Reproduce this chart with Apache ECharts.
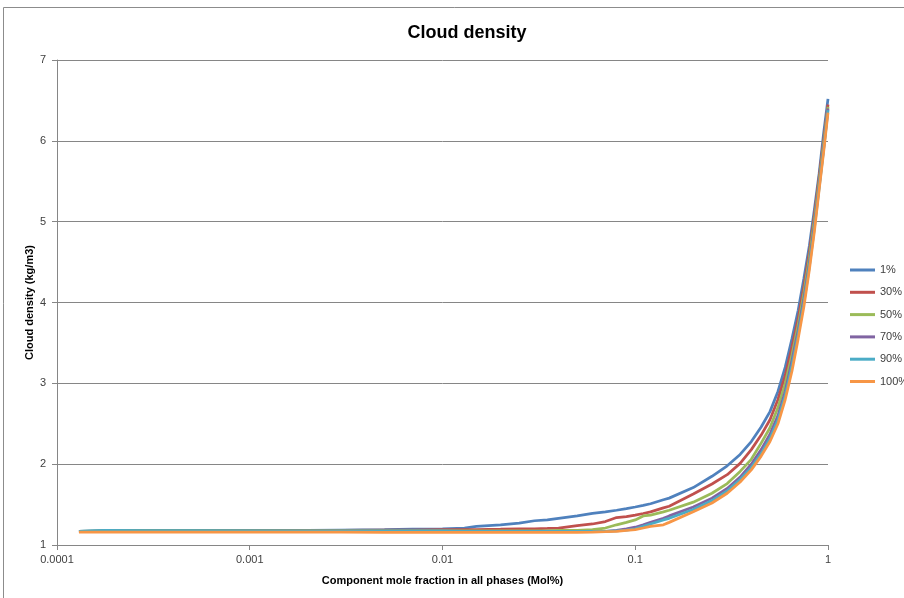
<!DOCTYPE html>
<html>
<head>
<meta charset="utf-8">
<script src="https://cdn.jsdelivr.net/npm/echarts@6/dist/echarts.min.js"></script>
<style>
  html, body { margin: 0; padding: 0; background: #fff; }
  #chart { width: 904px; height: 598px; }
</style>
</head>
<body>
<div id="chart"></div>
<script>
// Component mole fraction (log scale)
const moleFraction = [0.00013, 0.00018, 0.0003, 0.0005, 0.001, 0.002, 0.003, 0.005, 0.007, 0.01,
  0.013, 0.015, 0.02, 0.025, 0.03, 0.035, 0.04, 0.05, 0.06, 0.07,
  0.08, 0.09, 0.1, 0.11, 0.12, 0.14, 0.15, 0.2, 0.25, 0.3,
  0.35, 0.4, 0.45, 0.5, 0.55, 0.6, 0.65, 0.7, 0.75, 0.8,
  0.85, 0.9, 0.95, 1];

const seriesNames = ['1%', '30%', '50%', '70%', '90%', '100%'];

// Cloud density (kg/m3) for each case
const density1 = [1.17, 1.18, 1.18, 1.18, 1.18, 1.18, 1.185, 1.19, 1.195, 1.2,
  1.21, 1.23, 1.25, 1.27, 1.3, 1.31, 1.33, 1.36, 1.39, 1.41,
  1.43, 1.45, 1.47, 1.49, 1.51, 1.56, 1.58, 1.71, 1.85, 1.98,
  2.12, 2.28, 2.46, 2.65, 2.9, 3.2, 3.55, 3.9, 4.3, 4.7,
  5.15, 5.6, 6.1, 6.52];
const density30 = [1.165, 1.17, 1.17, 1.17, 1.175, 1.18, 1.18, 1.185, 1.185, 1.19,
  1.19, 1.19, 1.195, 1.2, 1.2, 1.205, 1.21, 1.24, 1.26, 1.29,
  1.34, 1.35, 1.37, 1.39, 1.41, 1.46, 1.48, 1.63, 1.755, 1.87,
  2.01, 2.18, 2.36, 2.55, 2.8, 3.1, 3.45, 3.8, 4.2, 4.62,
  5.08, 5.55, 6.02, 6.45];
const density50 = [1.17, 1.175, 1.175, 1.175, 1.175, 1.175, 1.175, 1.175, 1.175, 1.175,
  1.175, 1.175, 1.175, 1.175, 1.175, 1.175, 1.18, 1.18, 1.19, 1.21,
  1.25, 1.28, 1.31, 1.36, 1.37, 1.41, 1.43, 1.53, 1.64, 1.76,
  1.91, 2.06, 2.26, 2.45, 2.7, 3.0, 3.35, 3.72, 4.12, 4.55,
  5.02, 5.5, 5.97, 6.42];
const density70 = [1.165, 1.17, 1.17, 1.17, 1.165, 1.165, 1.165, 1.165, 1.165, 1.165,
  1.165, 1.165, 1.165, 1.165, 1.165, 1.165, 1.165, 1.165, 1.165, 1.17,
  1.18, 1.2, 1.22, 1.25, 1.28, 1.33, 1.36, 1.47, 1.58, 1.70,
  1.84, 2.0, 2.18, 2.37, 2.6, 2.9, 3.28, 3.65, 4.05, 4.48,
  4.96, 5.45, 5.92, 6.4];
const density90 = [1.17, 1.18, 1.175, 1.175, 1.175, 1.175, 1.175, 1.175, 1.175, 1.175,
  1.17, 1.17, 1.17, 1.17, 1.17, 1.17, 1.17, 1.17, 1.17, 1.17,
  1.175, 1.185, 1.2, 1.23, 1.26, 1.31, 1.33, 1.44, 1.55, 1.67,
  1.81, 1.96, 2.13, 2.32, 2.55, 2.85, 3.22, 3.6, 4.0, 4.44,
  4.92, 5.42, 5.9, 6.38];
const density100 = [1.16, 1.16, 1.16, 1.16, 1.16, 1.16, 1.16, 1.155, 1.155, 1.155,
  1.155, 1.155, 1.155, 1.155, 1.155, 1.155, 1.155, 1.155, 1.16, 1.165,
  1.17, 1.18, 1.19, 1.21, 1.23, 1.25, 1.28, 1.41, 1.52, 1.64,
  1.78, 1.93, 2.1, 2.28, 2.5, 2.8, 3.15, 3.55, 3.95, 4.4,
  4.88, 5.4, 5.87, 6.35];

const seriesValues = [density1, density30, density50, density70, density90, density100];
const seriesColors = ['#4F81BD', '#C0504D', '#9BBB59', '#8064A2', '#4BACC6', '#F79646'];

// Tick labels on the mole-fraction axis, keyed by decade exponent
const xTickLabels = { '-4': '0.0001', '-3': '0.001', '-2': '0.01', '-1': '0.1', '0': '1' };

const FONT = '"Liberation Sans", "DejaVu Sans", sans-serif';

const chart = echarts.init(document.getElementById('chart'), null, { renderer: 'canvas' });

chart.setOption({
  backgroundColor: '#ffffff',
  animation: false,
  title: {
    text: 'Cloud density',
    left: 462,
    textAlign: 'center',
    top: 19,
    textStyle: { fontFamily: FONT, fontSize: 18, fontWeight: 'bold', color: '#000' }
  },
  graphic: [{
    type: 'rect',
    shape: { x: 3.5, y: 7.5, width: 960, height: 640 },
    style: { fill: 'none', stroke: '#8c8c8c', lineWidth: 1 },
    silent: true,
    z: -1
  }],
  legend: {
    orient: 'vertical',
    left: 850,
    top: 263,
    padding: 0,
    itemWidth: 25,
    itemHeight: 3,
    itemGap: 8.3,
    icon: 'rect',
    data: seriesNames,
    textStyle: { fontFamily: FONT, fontSize: 11, color: '#404040', lineHeight: 14 }
  },
  grid: { left: 57, right: 76, top: 60, bottom: 53, containLabel: false },
  xAxis: {
    type: 'log',
    logBase: 10,
    min: 0.0001,
    max: 1,
    name: 'Component mole fraction in all phases (Mol%)',
    nameLocation: 'middle',
    nameGap: 30,
    nameTextStyle: { fontFamily: FONT, fontSize: 11, fontWeight: 'bold', color: '#000' },
    axisLine: { show: true, lineStyle: { color: '#868686', width: 1 } },
    axisTick: { show: true, inside: false, length: 5, lineStyle: { color: '#868686' } },
    minorTick: { show: false },
    splitLine: { show: false },
    axisLabel: {
      fontFamily: FONT, fontSize: 11, color: '#404040', margin: 9,
      formatter: v => xTickLabels[String(Math.round(Math.log10(v)))] || ''
    }
  },
  yAxis: {
    type: 'value',
    min: 1,
    max: 7,
    interval: 1,
    name: 'Cloud density (kg/m3)',
    nameLocation: 'middle',
    nameGap: 27,
    nameRotate: 90,
    nameMoveOverlap: false,
    nameTextStyle: { fontFamily: FONT, fontSize: 11, fontWeight: 'bold', color: '#000', verticalAlign: 'middle' },
    axisLine: { show: true, lineStyle: { color: '#868686', width: 1 } },
    axisTick: { show: true, inside: false, length: 5, lineStyle: { color: '#868686' } },
    splitLine: { show: true, lineStyle: { color: '#868686', width: 1 } },
    axisLabel: { fontFamily: FONT, fontSize: 11, color: '#404040', margin: 11 }
  },
  series: seriesNames.map((name, i) => ({
    name: name,
    type: 'line',
    data: moleFraction.map((x, j) => [x, seriesValues[i][j]]),
    showSymbol: false,
    symbol: 'none',
    smooth: false,
    lineStyle: { width: 2.75, color: seriesColors[i] },
    itemStyle: { color: seriesColors[i] },
    clip: false
  }))
});
</script>
</body>
</html>
